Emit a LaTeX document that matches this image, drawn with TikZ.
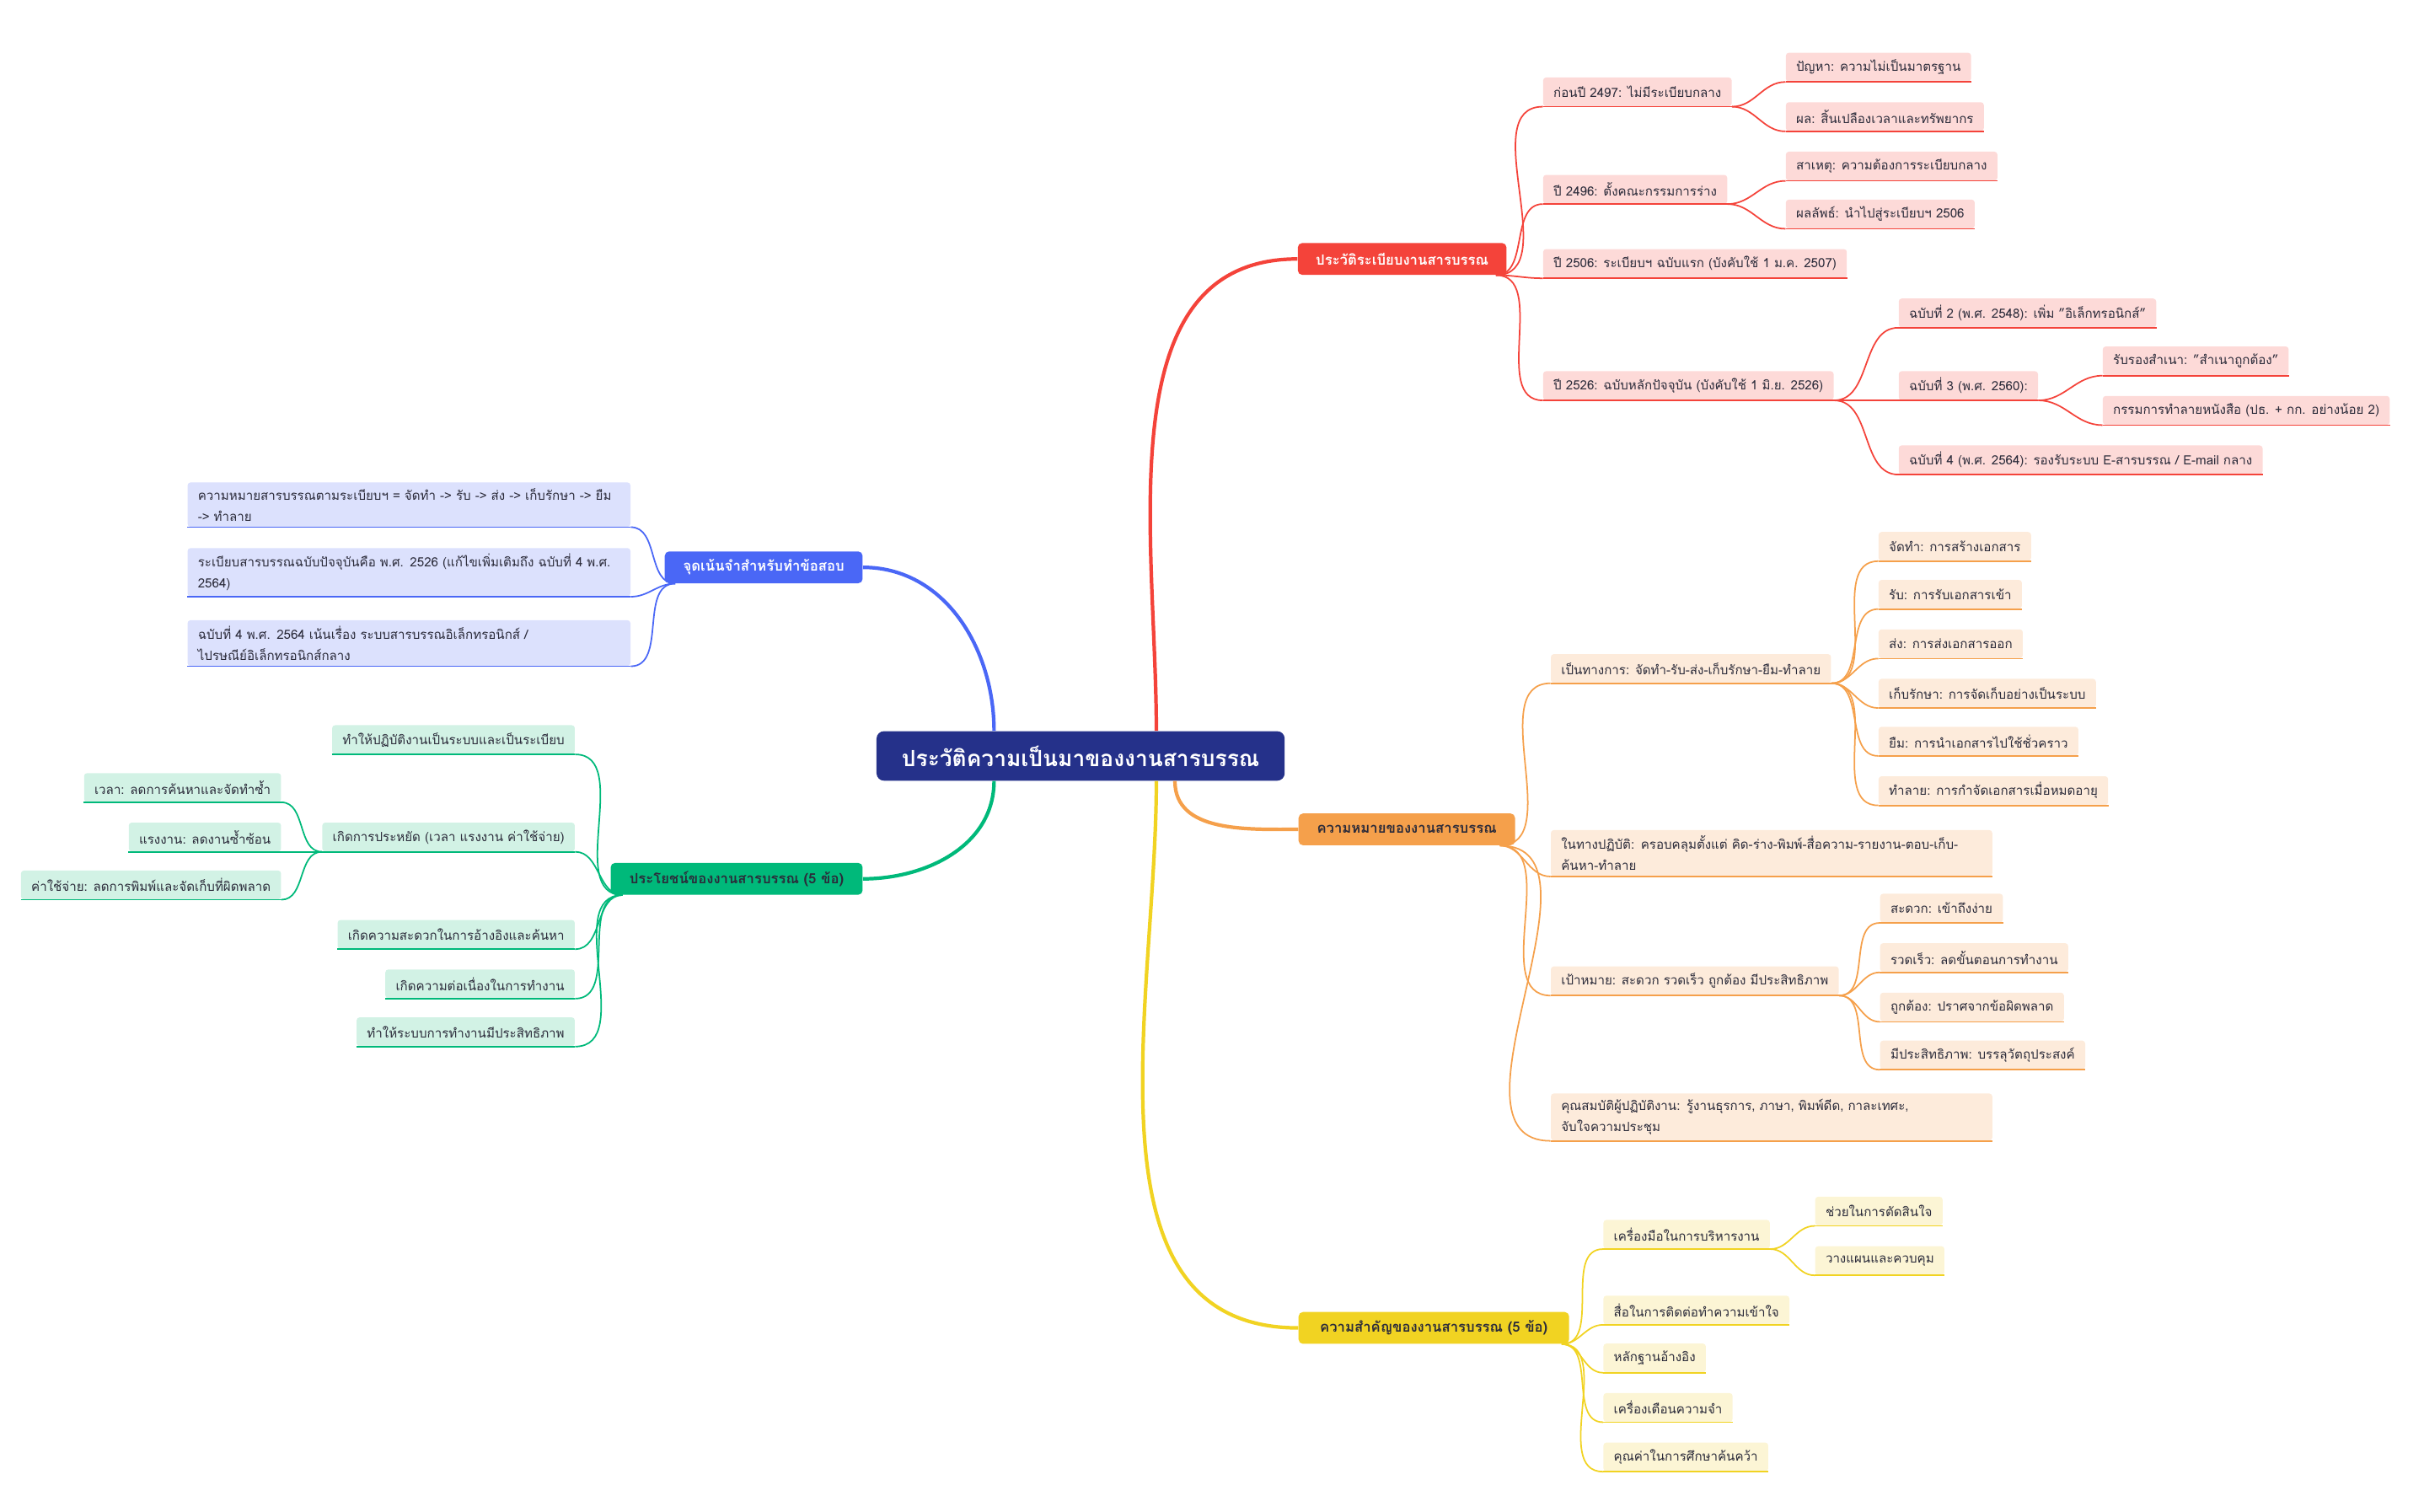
\documentclass[tikz,border=0pt]{standalone}
\usepackage{fontspec}
\setmainfont{Loma}[Script=Thai]
\definecolor{hub}{HTML}{25318A}
\definecolor{cR}{HTML}{F4433A}\definecolor{lR}{HTML}{FDDAD8}
\definecolor{cO}{HTML}{F5A04B}\definecolor{lO}{HTML}{FDEBDB}
\definecolor{cY}{HTML}{F1D322}\definecolor{lY}{HTML}{FCF5D5}
\definecolor{cB}{HTML}{4A67F6}\definecolor{lB}{HTML}{DCE1FD}
\definecolor{cG}{HTML}{00B97A}\definecolor{lG}{HTML}{D2F2E5}
\definecolor{ink}{HTML}{2B2B3A}

\begin{document}
\begin{tikzpicture}[x=0.03668cm,y=-0.03668cm,
  topic/.style={rounded corners=3pt,minimum height=21.5pt,inner xsep=7pt,font=\fontsize{9.5}{11}\selectfont\bfseries},
  leaf/.style={rounded corners=2pt,minimum height=19.5pt,inner xsep=7pt,text=ink,font=\fontsize{8.6}{14}\selectfont,align=left},
  leafR/.style={leaf,fill=lR,anchor=south west},
  leafO/.style={leaf,fill=lO,anchor=south west},
  leafY/.style={leaf,fill=lY,anchor=south west},
  leafB/.style={leaf,fill=lB,anchor=south east,text width=285pt,inner ysep=4pt},
  leafG/.style={leaf,fill=lG,anchor=south east},
  wide/.style={text width=284pt,inner ysep=4pt},
  trunk/.style={line width=2.4pt},
  twig/.style={line width=1pt},
  toR/.style={out=0,in=180},
  toL/.style={out=180,in=0}]
\useasboundingbox (0,0) rectangle (1568,978);

% centre and the five topics
\draw (699,489) node [rounded corners=5pt,fill=hub,text=white,minimum width=264*0.03668cm,minimum height=32*0.03668cm,font=\fontsize{15}{17}\selectfont\bfseries] (hub) {ประวัติความเป็นมาของงานสารบรรณ};
\draw (907,167.5) node [topic,fill=cR,text=white,minimum width=135*0.03668cm] (R) {ประวัติระเบียบงานสารบรรณ};
\draw (910,536.5) node [topic,fill=cO,text=ink,minimum width=140*0.03668cm] (O) {ความหมายของงานสารบรรณ};
\draw (927.5,859) node [topic,fill=cY,text=ink,minimum width=175*0.03668cm] (Y) {ความสำคัญของงานสารบรรณ (5 ข้อ)};
\draw (494,367) node [topic,fill=cB,text=white,minimum width=128*0.03668cm] (B) {จุดเน้นจำสำหรับทำข้อสอบ};
\draw (476.5,568.5) node [topic,fill=cG,text=ink,minimum width=163*0.03668cm] (G) {ประโยชน์ของงานสารบรรณ (5 ข้อ)};

\draw[trunk,cR] ([xshift=49*0.03668cm]hub.north) to[out=90,in=180] (R.west);
\draw[trunk,cO] ([xshift=61*0.03668cm]hub.south) to[out=-90,in=180] (O.west);
\draw[trunk,cY] ([xshift=49*0.03668cm]hub.south) to[out=-90,in=180] (Y.west);
\draw[trunk,cB] ([xshift=-56*0.03668cm]hub.north) to[out=90,in=0] (B.east);
\draw[trunk,cG] ([xshift=-56*0.03668cm]hub.south) to[out=-90,in=0] (G.east);

% history
\draw (998,69) node [leafR] (a1) {ก่อนปี 2497: ไม่มีระเบียบกลาง};
\draw (1155,53) node [leafR] (a11) {ปัญหา: ความไม่เป็นมาตรฐาน};
\draw (1155,85) node [leafR] (a12) {ผล: สิ้นเปลืองเวลาและทรัพยากร};
\draw (998,132) node [leafR] (a2) {ปี 2496: ตั้งคณะกรรมการร่าง};
\draw (1155,117) node [leafR] (a21) {สาเหตุ: ความต้องการระเบียบกลาง};
\draw (1155,148) node [leafR] (a22) {ผลลัพธ์: นำไปสู่ระเบียบฯ 2506};
\draw (998,180) node [leafR] (a3) {ปี 2506: ระเบียบฯ ฉบับแรก (บังคับใช้ 1 ม.ค. 2507)};
\draw (998,259) node [leafR] (a4) {ปี 2526: ฉบับหลักปัจจุบัน (บังคับใช้ 1 มิ.ย. 2526)};
\draw (1228,212) node [leafR] (a41) {ฉบับที่ 2 (พ.ศ. 2548): เพิ่ม "อิเล็กทรอนิกส์"};
\draw (1228,259) node [leafR] (a42) {ฉบับที่ 3 (พ.ศ. 2560):};
\draw (1360,243) node [leafR] (a421) {รับรองสำเนา: "สำเนาถูกต้อง"};
\draw (1360,275) node [leafR] (a422) {กรรมการทำลายหนังสือ (ปธ. + กก. อย่างน้อย 2)};
\draw (1228,307) node [leafR] (a43) {ฉบับที่ 4 (พ.ศ. 2564): รองรับระบบ E-สารบรรณ / E-mail กลาง};

% meaning
\draw (1003,442) node [leafO] (b1) {เป็นทางการ: จัดทำ-รับ-ส่ง-เก็บรักษา-ยืม-ทำลาย};
\draw (1215,363) node [leafO] (b11) {จัดทำ: การสร้างเอกสาร};
\draw (1215,394) node [leafO] (b12) {รับ: การรับเอกสารเข้า};
\draw (1215,426) node [leafO] (b13) {ส่ง: การส่งเอกสารออก};
\draw (1215,458) node [leafO] (b14) {เก็บรักษา: การจัดเก็บอย่างเป็นระบบ};
\draw (1215,489) node [leafO] (b15) {ยืม: การนำเอกสารไปใช้ชั่วคราว};
\draw (1215,521) node [leafO] (b16) {ทำลาย: การกำจัดเอกสารเมื่อหมดอายุ};
\draw (1003,567) node [leafO,wide] (b2) {ในทางปฏิบัติ: ครอบคลุมตั้งแต่ คิด-ร่าง-พิมพ์-สื่อความ-รายงาน-ตอบ-เก็บ-ค้นหา-ทำลาย};
\draw (1003,644) node [leafO] (b3) {เป้าหมาย: สะดวก รวดเร็ว ถูกต้อง มีประสิทธิภาพ};
\draw (1216,597) node [leafO] (b31) {สะดวก: เข้าถึงง่าย};
\draw (1216,629) node [leafO] (b32) {รวดเร็ว: ลดขั้นตอนการทำงาน};
\draw (1216,661) node [leafO] (b33) {ถูกต้อง: ปราศจากข้อผิดพลาด};
\draw (1216,692) node [leafO] (b34) {มีประสิทธิภาพ: บรรลุวัตถุประสงค์};
\draw (1003,738) node [leafO,wide] (b4) {คุณสมบัติผู้ปฏิบัติงาน: รู้งานธุรการ, ภาษา, พิมพ์ดีด, กาละเทศะ, จับใจความประชุม};

% importance
\draw (1037,808) node [leafY] (c1) {เครื่องมือในการบริหารงาน};
\draw (1174,793) node [leafY] (c11) {ช่วยในการตัดสินใจ};
\draw (1174,825) node [leafY] (c12) {วางแผนและควบคุม};
\draw (1037,857) node [leafY] (c2) {สื่อในการติดต่อทำความเข้าใจ};
\draw (1037,888) node [leafY] (c3) {หลักฐานอ้างอิง};
\draw (1037,920) node [leafY] (c4) {เครื่องเตือนความจำ};
\draw (1037,952) node [leafY] (c5) {คุณค่าในการศึกษาค้นคว้า};

% exam notes
\draw (408,341) node [leafB] (d1) {ความหมายสารบรรณตามระเบียบฯ = จัดทำ -> รับ -> ส่ง -> เก็บรักษา -> ยืม -> ทำลาย};
\draw (408,386) node [leafB] (d2) {ระเบียบสารบรรณฉบับปัจจุบันคือ พ.ศ. 2526 (แก้ไขเพิ่มเติมถึง ฉบับที่ 4 พ.ศ. 2564)};
\draw (408,431) node [leafB] (d3) {ฉบับที่ 4 พ.ศ. 2564 เน้นเรื่อง ระบบสารบรรณอิเล็กทรอนิกส์ / ไปรษณีย์อิเล็กทรอนิกส์กลาง};

% benefits
\draw (372,488) node [leafG] (e1) {ทำให้ปฏิบัติงานเป็นระบบและเป็นระเบียบ};
\draw (372,551) node [leafG] (e2) {เกิดการประหยัด (เวลา แรงงาน ค่าใช้จ่าย)};
\draw (182,519) node [leafG] (e21) {เวลา: ลดการค้นหาและจัดทำซ้ำ};
\draw (182,551) node [leafG] (e22) {แรงงาน: ลดงานซ้ำซ้อน};
\draw (182,582) node [leafG] (e23) {ค่าใช้จ่าย: ลดการพิมพ์และจัดเก็บที่ผิดพลาด};
\draw (372,614) node [leafG] (e3) {เกิดความสะดวกในการอ้างอิงและค้นหา};
\draw (372,646) node [leafG] (e4) {เกิดความต่อเนื่องในการทำงาน};
\draw (372,677) node [leafG] (e5) {ทำให้ระบบการทำงานมีประสิทธิภาพ};

% underlines
\foreach \n in {a1,a11,a12,a2,a21,a22,a3,a4,a41,a42,a421,a422,a43}
  \draw[twig,cR] (\n.south west) -- (\n.south east);
\foreach \n in {b1,b11,b12,b13,b14,b15,b16,b2,b3,b31,b32,b33,b34,b4}
  \draw[twig,cO] (\n.south west) -- (\n.south east);
\foreach \n in {c1,c11,c12,c2,c3,c4,c5}
  \draw[twig,cY] (\n.south west) -- (\n.south east);
\foreach \n in {d1,d2,d3}
  \draw[twig,cB] (\n.south west) -- (\n.south east);
\foreach \n in {e1,e2,e21,e22,e23,e3,e4,e5}
  \draw[twig,cG] (\n.south west) -- (\n.south east);

% branches
\path[twig,cR]
  ([xshift=-7*0.03668cm]R.south east) edge[toR] (a1.south west) edge[toR] (a2.south west)
    edge[toR] (a3.south west) edge[toR] (a4.south west)
  (a1.south east) edge[toR] (a11.south west) edge[toR] (a12.south west)
  (a2.south east) edge[toR] (a21.south west) edge[toR] (a22.south west)
  (a4.south east) edge[toR] (a41.south west) edge[toR] (a42.south west) edge[toR] (a43.south west)
  (a42.south east) edge[toR] (a421.south west) edge[toR] (a422.south west);
\path[twig,cO]
  ([xshift=-10*0.03668cm]O.south east) edge[toR] (b1.south west) edge[toR] (b2.south west)
    edge[toR] (b3.south west) edge[toR] (b4.south west)
  (b1.south east) edge[toR] (b11.south west) edge[toR] (b12.south west) edge[toR] (b13.south west)
    edge[toR] (b14.south west) edge[toR] (b15.south west) edge[toR] (b16.south west)
  (b3.south east) edge[toR] (b31.south west) edge[toR] (b32.south west)
    edge[toR] (b33.south west) edge[toR] (b34.south west);
\path[twig,cY]
  ([xshift=-5*0.03668cm]Y.south east) edge[toR] (c1.south west) edge[toR] (c2.south west)
    edge[toR] (c3.south west) edge[toR] (c4.south west) edge[toR] (c5.south west)
  (c1.south east) edge[toR] (c11.south west) edge[toR] (c12.south west);
\path[twig,cB]
  ([xshift=7*0.03668cm]B.south west) edge[toL] (d1.south east) edge[toL] (d2.south east) edge[toL] (d3.south east);
\path[twig,cG]
  ([xshift=8*0.03668cm]G.south west) edge[toL] (e1.south east) edge[toL] (e2.south east)
    edge[toL] (e3.south east) edge[toL] (e4.south east) edge[toL] (e5.south east)
  (e2.south west) edge[toL] (e21.south east) edge[toL] (e22.south east) edge[toL] (e23.south east);
\end{tikzpicture}
\end{document}
